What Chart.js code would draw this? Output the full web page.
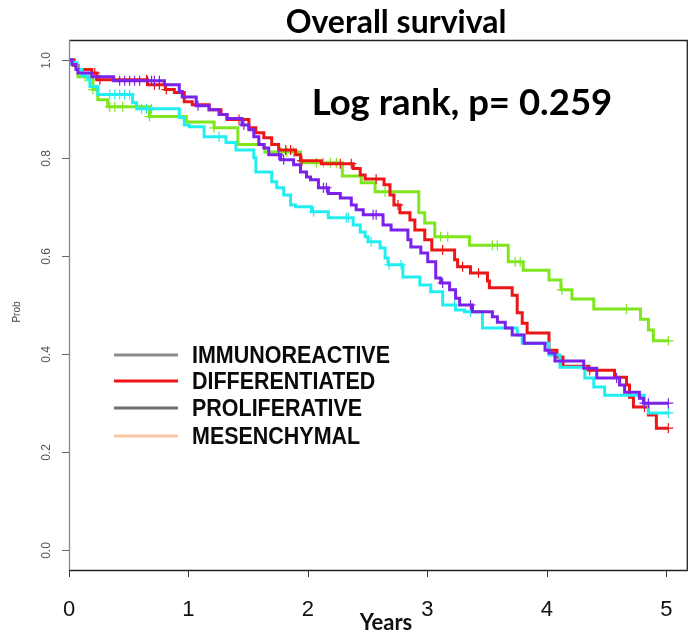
<!DOCTYPE html>
<html><head><meta charset="utf-8">
<script src="https://cdn.jsdelivr.net/npm/chart.js@4.4.0/dist/chart.umd.min.js"></script>
<style>html,body{margin:0;padding:0;background:#fff;overflow:hidden}canvas{display:block}</style>
</head><body>
<canvas id="c" width="694" height="632"></canvas>
<script>
const chartTitle = "Overall survival";
const annotationText = "Log rank, p= 0.259";
const xAxisTitle = "Years";
const yAxisTitle = "Prob";
const xTicks = [0, 1, 2, 3, 4, 5];
const xTickLabels = ["0", "1", "2", "3", "4", "5"];
const yTicks = [0.0, 0.2, 0.4, 0.6, 0.8, 1.0];
const yTickLabels = ["0.0", "0.2", "0.4", "0.6", "0.8", "1.0"];
const legendLabels = ["IMMUNOREACTIVE", "DIFFERENTIATED", "PROLIFERATIVE", "MESENCHYMAL"];
const legendColors = ["#8c8c8c", "#f01414", "#6f6f6f", "#f7c6a4"];

// Kaplan-Meier step curves (time in years, survival probability after step)
const greenTimes = [0, 0.033, 0.075, 0.200, 0.241, 0.324, 0.674, 0.982, 1.215, 1.414, 1.639, 1.938, 2.288, 2.446, 2.562, 2.928, 2.978, 3.062, 3.353, 3.677, 3.802, 4.018, 4.118, 4.210, 4.393, 4.784, 4.850, 4.892, 5.017];
const greenSurv  = [1.0, 0.988, 0.965, 0.939, 0.918, 0.904, 0.884, 0.873, 0.861, 0.827, 0.812, 0.790, 0.763, 0.749, 0.731, 0.688, 0.667, 0.639, 0.622, 0.588, 0.571, 0.551, 0.531, 0.512, 0.492, 0.471, 0.449, 0.427, 0.427];
const greenCensor = [0.133, 0.200, 0.341, 0.383, 0.449, 0.674, 1.215, 1.772, 1.822, 1.880, 2.071, 2.130, 2.188, 2.238, 2.646, 3.111, 3.170, 3.544, 3.586, 3.735, 3.777, 4.126, 4.667, 5.017];

const redTimes = [0, 0.042, 0.075, 0.191, 0.233, 0.657, 0.807, 0.882, 0.965, 1.032, 1.173, 1.273, 1.323, 1.506, 1.564, 1.631, 1.697, 1.755, 1.897, 1.938, 2.113, 2.379, 2.438, 2.479, 2.637, 2.687, 2.720, 2.770, 2.854, 2.895, 2.978, 3.037, 3.228, 3.253, 3.361, 3.503, 3.519, 3.710, 3.752, 3.794, 3.835, 4.018, 4.085, 4.135, 4.351, 4.567, 4.667, 4.692, 4.725, 4.850, 4.917, 5.017];
const redSurv  = [1.0, 0.988, 0.980, 0.973, 0.959, 0.949, 0.939, 0.933, 0.914, 0.908, 0.898, 0.888, 0.878, 0.861, 0.851, 0.841, 0.827, 0.816, 0.806, 0.794, 0.788, 0.778, 0.765, 0.757, 0.745, 0.724, 0.704, 0.688, 0.673, 0.653, 0.633, 0.612, 0.592, 0.578, 0.565, 0.549, 0.535, 0.520, 0.484, 0.463, 0.443, 0.408, 0.394, 0.375, 0.367, 0.353, 0.337, 0.312, 0.292, 0.276, 0.249, 0.249];
const redCensor = [0.216, 0.258, 0.649, 0.715, 0.757, 0.815, 1.423, 1.814, 1.855, 1.950, 2.271, 2.363, 2.571, 2.754, 3.128, 3.295, 3.428, 4.359, 4.817, 5.017];

const purpleTimes = [0, 0.025, 0.058, 0.075, 0.191, 0.374, 0.799, 0.923, 0.948, 1.065, 1.173, 1.256, 1.323, 1.448, 1.506, 1.547, 1.589, 1.631, 1.672, 1.772, 1.880, 1.938, 1.988, 2.022, 2.088, 2.171, 2.271, 2.363, 2.404, 2.463, 2.629, 2.696, 2.837, 2.862, 2.945, 3.003, 3.070, 3.111, 3.186, 3.236, 3.270, 3.378, 3.544, 3.586, 3.652, 3.710, 3.810, 3.985, 4.018, 4.068, 4.309, 4.418, 4.609, 4.651, 4.775, 4.809, 5.017];
const purpleSurv  = [1.0, 0.990, 0.980, 0.973, 0.965, 0.957, 0.949, 0.935, 0.924, 0.906, 0.898, 0.888, 0.880, 0.867, 0.857, 0.843, 0.827, 0.820, 0.806, 0.796, 0.786, 0.771, 0.761, 0.755, 0.739, 0.727, 0.718, 0.704, 0.694, 0.684, 0.663, 0.653, 0.633, 0.618, 0.606, 0.588, 0.555, 0.545, 0.531, 0.514, 0.500, 0.486, 0.476, 0.465, 0.453, 0.439, 0.422, 0.408, 0.402, 0.386, 0.371, 0.351, 0.337, 0.322, 0.310, 0.300, 0.300];
const purpleCensor = [0.424, 0.466, 0.507, 0.549, 0.591, 0.657, 0.691, 0.715, 0.757, 1.080, 1.464, 1.755, 1.797, 2.130, 2.155, 2.546, 2.571, 3.128, 3.361, 4.584, 4.817, 4.850, 5.017];

const cyanTimes = [0, 0.025, 0.067, 0.108, 0.158, 0.175, 0.241, 0.532, 0.566, 0.923, 0.965, 1.007, 1.131, 1.314, 1.398, 1.547, 1.564, 1.697, 1.739, 1.797, 1.855, 1.897, 2.030, 2.171, 2.379, 2.438, 2.479, 2.504, 2.604, 2.646, 2.671, 2.795, 2.937, 3.028, 3.128, 3.236, 3.311, 3.461, 3.752, 3.794, 4.018, 4.110, 4.318, 4.393, 4.484, 4.817, 4.850, 5.017];
const cyanSurv  = [1.0, 0.994, 0.980, 0.967, 0.959, 0.945, 0.929, 0.912, 0.900, 0.882, 0.867, 0.863, 0.843, 0.831, 0.816, 0.800, 0.771, 0.751, 0.739, 0.724, 0.704, 0.700, 0.690, 0.678, 0.663, 0.649, 0.639, 0.629, 0.616, 0.596, 0.582, 0.557, 0.541, 0.527, 0.500, 0.490, 0.486, 0.453, 0.439, 0.422, 0.398, 0.373, 0.351, 0.333, 0.316, 0.300, 0.280, 0.280];
const cyanCensor = [0.341, 0.383, 0.424, 0.466, 0.507, 0.607, 0.649, 0.691, 1.256, 2.047, 2.321, 2.338, 2.529, 2.680, 2.779, 3.228, 3.361, 5.017];

const curveColors = { green: "#7fe61e", red: "#ec1616", purple: "#7b22ea", cyan: "#22eef2" };

function toPoints(times, surv) { return times.map((t, i) => ({ x: t, y: surv[i] })); }
function survAt(times, surv, t) {
  let v = surv[0];
  for (let i = 0; i < times.length; i++) { if (times[i] <= t + 1e-9) v = surv[i]; }
  return v;
}
function censorPoints(times, surv, cens) { return cens.map(t => ({ x: t, y: survAt(times, surv, t) })); }

const groups = [
  ["purple", purpleTimes, purpleSurv, purpleCensor],
  ["cyan", cyanTimes, cyanSurv, cyanCensor],
  ["red", redTimes, redSurv, redCensor],
  ["green", greenTimes, greenSurv, greenCensor]
];
const datasets = [];
groups.forEach(([name, t, s, c]) => {
  datasets.push({
    label: name + " censored", data: censorPoints(t, s, c), showLine: false,
    pointStyle: "cross", pointRadius: 5, pointBorderWidth: 1.2, pointHoverRadius: 5,
    borderColor: curveColors[name], backgroundColor: curveColors[name]
  });
  datasets.push({
    label: name, data: toPoints(t, s), stepped: "before", borderColor: curveColors[name],
    borderWidth: 3, pointRadius: 0, fill: false, tension: 0, borderCapStyle: "butt", borderJoinStyle: "miter"
  });
});

const decor = {
  id: "decor",
  afterDraw(chart) {
    const ctx = chart.ctx, xs = chart.scales.x, ys = chart.scales.y, a = chart.chartArea;
    ctx.save();
    // box
    ctx.lineWidth = 1.3;
    ctx.strokeStyle = "#222";
    ctx.beginPath();
    ctx.moveTo(a.left, a.top + 0.5); ctx.lineTo(a.right, a.top + 0.5);
    ctx.moveTo(a.right - 0.5, a.top); ctx.lineTo(a.right - 0.5, a.bottom);
    ctx.moveTo(a.left, a.bottom + 0.5); ctx.lineTo(a.right, a.bottom + 0.5);
    ctx.stroke();
    ctx.strokeStyle = "#888";
    ctx.beginPath(); ctx.moveTo(a.left + 0.5, a.top); ctx.lineTo(a.left + 0.5, a.bottom + 1); ctx.stroke();
    // y ticks
    ctx.lineWidth = 1;
    ctx.strokeStyle = "#666";
    ctx.fillStyle = "#555";
    ctx.font = "12px 'Liberation Sans', Arial, sans-serif";
    ctx.textAlign = "center"; ctx.textBaseline = "middle";
    yTicks.forEach((v, i) => {
      const y = Math.round(ys.getPixelForValue(v)) + 0.5;
      ctx.beginPath(); ctx.moveTo(a.left - 7, y); ctx.lineTo(a.left, y); ctx.stroke();
      ctx.save(); ctx.translate(a.left - 22, y); ctx.rotate(-Math.PI / 2);
      ctx.fillText(yTickLabels[i], 0, 0); ctx.restore();
    });
    // x ticks
    ctx.strokeStyle = "#333";
    xTicks.forEach((v, i) => {
      const x = Math.round(xs.getPixelForValue(v)) + 0.5;
      ctx.beginPath(); ctx.moveTo(x, a.bottom); ctx.lineTo(x, a.bottom + 7); ctx.stroke();
    });
    ctx.fillStyle = "#111";
    ctx.font = "22px 'Liberation Sans', Arial, sans-serif";
    ctx.textBaseline = "middle";
    xTicks.forEach((v, i) => {
      const x = xs.getPixelForValue(v);
      ctx.fillText(xTickLabels[i], x, 610);
    });
    // axis titles
    ctx.font = "bold 22px Lato, 'Open Sans', sans-serif";
    ctx.fillText(xAxisTitle, 386, 623);
    ctx.save(); ctx.translate(17, 312); ctx.rotate(-Math.PI / 2);
    ctx.font = "10px 'Liberation Sans', Arial, sans-serif"; ctx.fillStyle = "#444";
    ctx.fillText(yAxisTitle, 0, 0); ctx.restore();
    // title
    ctx.fillStyle = "#000";
    ctx.font = "bold 32px Lato, 'Open Sans', sans-serif";
    ctx.fillText(chartTitle, 396, 23);
    // annotation
    ctx.font = "bold 36.5px Lato, 'Open Sans', sans-serif";
    ctx.fillText(annotationText, 462, 103);
    // legend
    const rowsY = [355, 381, 408, 436];
    ctx.font = "bold 24px 'Liberation Sans Narrow', 'Liberation Sans', Arial, sans-serif";
    const natural = ctx.measureText(legendLabels[0]).width;
    const sx = 198 / natural;
    legendLabels.forEach((lab, i) => {
      ctx.strokeStyle = legendColors[i]; ctx.lineWidth = 3;
      ctx.beginPath(); ctx.moveTo(114, rowsY[i]); ctx.lineTo(178, rowsY[i]); ctx.stroke();
      ctx.save(); ctx.translate(192, rowsY[i] + 1); ctx.scale(sx, 1);
      ctx.fillStyle = "#0a0a0a"; ctx.textAlign = "left";
      ctx.fillText(lab, 0, 0); ctx.restore();
    });
    ctx.restore();
  }
};

new Chart(document.getElementById("c"), {
  type: "line",
  data: { datasets },
  options: {
    responsive: false, animation: false, devicePixelRatio: 1,
    layout: { padding: { left: 69, top: 40, right: 2, bottom: 62 } },
    plugins: { legend: { display: false }, tooltip: { enabled: false }, title: { display: false } },
    scales: {
      x: { type: "linear", min: 0, max: 5.18, display: false },
      y: { type: "linear", min: -0.04, max: 1.04, display: false }
    }
  },
  plugins: [decor]
});
</script>
</body></html>
